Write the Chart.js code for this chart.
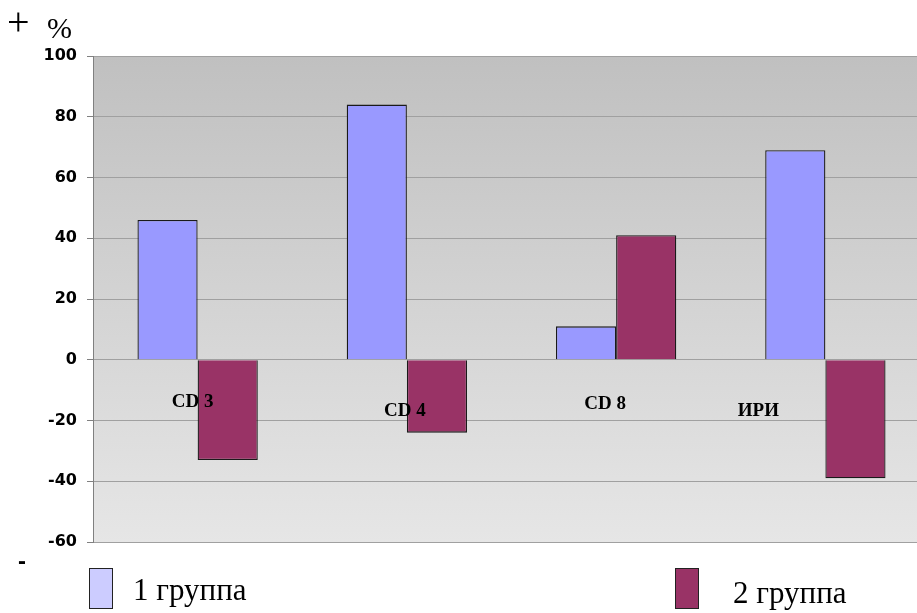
<!DOCTYPE html>
<html>
<head>
<meta charset="utf-8">
<script src="https://cdn.jsdelivr.net/npm/chart.js@4/dist/chart.umd.min.js"></script>
<style>
  html, body { margin: 0; padding: 0; background: #fff; overflow: hidden; }
  #wrap { width: 917px; height: 613px; overflow: hidden; position: relative; }
  canvas { display: block; }
</style>
</head>
<body>
<div id="wrap"><canvas id="c" width="930" height="613"></canvas></div>
<script>
// Categories and values for both groups
const categories = ['CD 3', 'CD 4', 'CD 8', 'ИРИ'];
const group1 = [46, 84, 11, 69];
const group2 = [-33, -24, 41, -39];
const seriesNames = ['1 группа', '2 группа'];
const yTicks = { min: -60, max: 100, step: 20 };

// Where each category caption sits: x shift (px) from category centre, y in axis units
const captionPlace = [
  { dx: -5, y: -14 },
  { dx: -2, y: -17 },
  { dx: -11, y: -14.5 },
  { dx: -67, y: -17 }
];

const plotBackground = {
  id: 'plotBackground',
  beforeDraw(chart) {
    const { ctx, chartArea: a } = chart;
    const g = ctx.createLinearGradient(0, a.top, 0, a.bottom);
    g.addColorStop(0, '#c0c0c0');
    g.addColorStop(1, '#e6e6e6');
    ctx.save();
    ctx.fillStyle = g;
    ctx.fillRect(a.left, a.top, a.right - a.left, a.bottom - a.top);
    ctx.restore();
  }
};

const captions = {
  id: 'captions',
  afterDatasetsDraw(chart) {
    const { ctx, scales: { x, y } } = chart;
    ctx.save();
    ctx.font = 'bold 19px "Liberation Serif", "Times New Roman", serif';
    ctx.fillStyle = '#000';
    ctx.textAlign = 'center';
    ctx.textBaseline = 'middle';
    categories.forEach((c, i) => {
      const p = captionPlace[i];
      ctx.fillText(c, x.getPixelForValue(i) + p.dx, y.getPixelForValue(p.y));
    });
    ctx.restore();
  }
};

const legendAndSigns = {
  id: 'legendAndSigns',
  afterDraw(chart) {
    const { ctx } = chart;
    ctx.save();
    // sign markers beside the value axis
    ctx.fillStyle = '#000';
    ctx.textBaseline = 'alphabetic';
    ctx.textAlign = 'left';
    ctx.font = '40px "Liberation Serif", "Times New Roman", serif';
    ctx.fillText('+', 7, 35);
    ctx.font = '30px "Liberation Serif", "Times New Roman", serif';
    ctx.fillText('%', 47, 38);
    ctx.font = 'bold 24px "Liberation Sans", Arial, sans-serif';
    ctx.fillText('-', 18, 569);

    // legend
    const swatch = ['#ccccff', '#993366'];
    const boxX = [89, 675];
    const textX = [133, 733];
    const baseY = [600, 603];
    ctx.font = '31px "Liberation Serif", "Times New Roman", serif';
    seriesNames.forEach((n, i) => {
      ctx.fillStyle = swatch[i];
      ctx.fillRect(boxX[i] + 0.5, 568.5, 23, 40);
      ctx.strokeStyle = '#222';
      ctx.lineWidth = 1;
      ctx.strokeRect(boxX[i] + 0.5, 568.5, 23, 40);
      ctx.fillStyle = '#000';
      ctx.fillText(n, textX[i], baseY[i]);
    });
    ctx.restore();
  }
};

new Chart(document.getElementById('c'), {
  type: 'bar',
  data: {
    labels: categories,
    datasets: [
      { label: seriesNames[0], data: group1, backgroundColor: '#9999ff', borderColor: '#1a1a1a', borderWidth: 1.3 },
      { label: seriesNames[1], data: group2, backgroundColor: '#993366', borderColor: '#1a1a1a', borderWidth: 1.3 }
    ]
  },
  options: {
    responsive: false,
    devicePixelRatio: 1,
    animation: false,
    categoryPercentage: 0.575,
    barPercentage: 1,
    layout: { padding: { top: 56, bottom: 71, left: 0, right: 0 } },
    plugins: { legend: { display: false }, tooltip: { enabled: false } },
    scales: {
      x: { display: false },
      y: {
        min: yTicks.min,
        max: yTicks.max,
        ticks: {
          stepSize: yTicks.step,
          color: '#000',
          padding: 10,
          font: { family: '"DejaVu Sans", Verdana, sans-serif', weight: 'bold', size: 16 }
        },
        grid: { color: '#a0a0a0', tickLength: 6, tickColor: '#808080', lineWidth: 1 },
        border: { color: '#808080' },
        afterFit(s) { s.width = 93; }
      }
    }
  },
  plugins: [plotBackground, captions, legendAndSigns]
});
</script>
</body>
</html>
